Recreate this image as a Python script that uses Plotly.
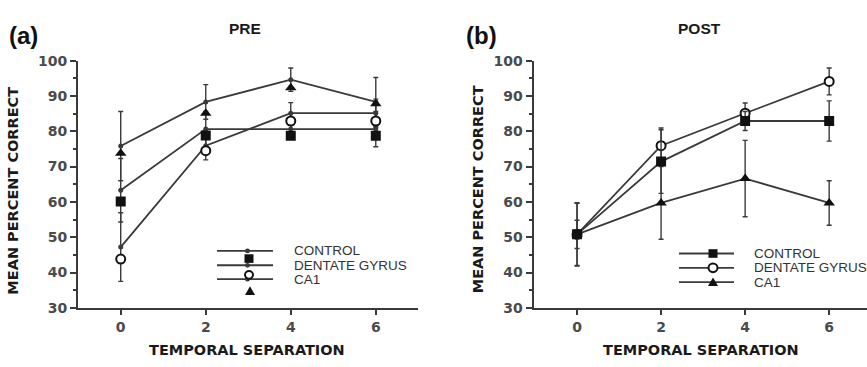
import plotly.graph_objects as go

W, H = 867, 367

# ---------------- data ----------------
x_vals = [0, 2, 4, 6]
x_ticks = [0, 2, 4, 6]
y_ticks = [30, 40, 50, 60, 70, 80, 90, 100]
series_names = ["CONTROL", "DENTATE GYRUS", "CA1"]

# PRE panel: connecting lines (with small vertex dots) and offset symbols
pre_control_line = [63.3, 80.6, 80.6, 80.6]
pre_dentate_line = [47.2, 75.9, 85.1, 85.1]
pre_ca1_line = [75.8, 88.3, 94.6, 88.3]
pre_control_err = [9.0, 5.0, 2.6, 5.0]
pre_dentate_err = [9.7, 4.0, 3.0, 4.0]
pre_ca1_err = [9.8, 4.9, 3.3, 6.9]
pre_control_sym = [60.1, 78.8, 78.7, 78.7]
pre_dentate_sym = [43.8, 74.5, 82.9, 82.9]
pre_ca1_sym = [73.8, 85.1, 92.3, 87.8]

# POST panel
post_control = [50.8, 71.4, 82.9, 82.9]
post_dentate = [50.8, 75.9, 85.1, 94.1]
post_ca1 = [50.8, 59.7, 66.6, 59.7]
post_control_err = [9.0, 9.0, 2.7, 5.7]
post_dentate_err = [8.8, 5.0, 2.9, 3.8]
post_ca1_err = [4.0, 10.3, 10.8, 6.3]

# ---------------- style ----------------
LINE_C = "#3a3a3a"
MARK_C = "#111111"
AXIS_C = "#3a3a3a"
TICK_FONT = dict(family="DejaVu Sans", size=14, color="#4a4a4a", weight="bold")
TITLE_FONT = dict(family="DejaVu Sans", size=14.5, color="#1a1a1a", weight="bold")
LEG_FONT = dict(family="Liberation Sans, Arial", size=13.5, color="#333333")
symbols = ["square", "circle", "triangle-up"]
sym_fill = [MARK_C, "white", MARK_C]
sym_sizes = [10, 9, 10]


def err(a):
    return dict(type="data", array=a, visible=True, width=2.5, thickness=1.4, color=LINE_C)


def marker(i):
    return dict(symbol=symbols[i], size=sym_sizes[i], color=sym_fill[i],
                line=dict(color=MARK_C, width=2 if sym_fill[i] == "white" else 0))


fig = go.Figure()

# PRE lines with vertex dots and error bars
for vals, e in [(pre_control_line, pre_control_err),
                (pre_dentate_line, pre_dentate_err),
                (pre_ca1_line, pre_ca1_err)]:
    fig.add_trace(go.Scatter(
        x=x_vals, y=vals, mode="lines+markers", xaxis="x", yaxis="y",
        line=dict(color=LINE_C, width=1.8),
        marker=dict(symbol="circle", size=5, color=LINE_C),
        error_y=err(e), showlegend=False, hoverinfo="skip"))

# PRE symbols (offset from the lines, as in the original figure)
for i, vals in enumerate([pre_control_sym, pre_dentate_sym, pre_ca1_sym]):
    fig.add_trace(go.Scatter(
        x=x_vals, y=vals, mode="markers", xaxis="x", yaxis="y",
        marker=marker(i), showlegend=False, hoverinfo="skip"))

# POST
for i, vals, e in [(2, post_ca1, post_ca1_err),
                   (1, post_dentate, post_dentate_err),
                   (0, post_control, post_control_err)]:
    fig.add_trace(go.Scatter(
        x=x_vals, y=vals, mode="lines+markers", xaxis="x2", yaxis="y2", name=series_names[i],
        line=dict(color=LINE_C, width=1.8), marker=marker(i),
        error_y=err(e), showlegend=False))


def px_x(p):
    return p / W


def px_y(p):
    return 1 - p / H


yb, yt = px_y(313.5), px_y(55)

axis_common = dict(showgrid=False, zeroline=False, showline=True, linecolor=AXIS_C,
                   linewidth=2, ticks="outside", tickcolor=AXIS_C, tickwidth=1.5,
                   tickfont=TICK_FONT)

fig.update_layout(
    width=W, height=H, margin=dict(l=0, r=0, t=0, b=0),
    paper_bgcolor="white", plot_bgcolor="white", showlegend=False,
    xaxis=dict(domain=[px_x(78), px_x(418.3)], range=[-1.005, 7.0], tickvals=x_ticks,
               ticklen=5, anchor="y", **axis_common),
    yaxis=dict(domain=[yb, yt], range=[30, 100], tickvals=y_ticks, ticklen=6, anchor="x",
               minor=dict(tick0=30, dtick=5, ticks="outside", ticklen=3, tickcolor=AXIS_C,
                          tickwidth=1.5),
               **axis_common),
    xaxis2=dict(domain=[px_x(533.5), 1.0], range=[-1.036, 6.9], tickvals=x_ticks,
                ticklen=5, anchor="y2", **axis_common),
    yaxis2=dict(domain=[yb, yt], range=[30, 100], tickvals=y_ticks, ticklen=6, anchor="x2",
                minor=dict(tick0=30, dtick=5, ticks="outside", ticklen=3, tickcolor=AXIS_C,
                           tickwidth=1.5),
                **axis_common),
)

ann = []


def text(x, y, s, font, xanchor="center", textangle=0):
    ann.append(dict(x=px_x(x), y=px_y(y), xref="paper", yref="paper", text=s,
                    showarrow=False, font=font, xanchor=xanchor, yanchor="middle",
                    textangle=textangle))


panel_font = dict(family="Liberation Sans, Arial", size=24, color="#111111", weight="bold")
head_font = dict(family="Liberation Sans, Arial", size=15.5, color="#1a1a1a", weight="bold")
text(23.5, 29, "(a)", panel_font)
text(481, 29, "(b)", panel_font)
text(245, 21, "PRE", head_font)
text(699, 21, "POST", head_font)
text(246.5, 358, "TEMPORAL SEPARATION", TITLE_FONT)
text(700.5, 358, "TEMPORAL SEPARATION", TITLE_FONT)
text(13, 191, "MEAN PERCENT CORRECT", TITLE_FONT, textangle=-90)
text(477.5, 189, "MEAN PERCENT CORRECT", TITLE_FONT, textangle=-90)

shapes = []


def hline(x0, x1, y):
    shapes.append(dict(type="line", xref="paper", yref="paper", x0=px_x(x0), x1=px_x(x1),
                       y0=px_y(y), y1=px_y(y), line=dict(color=LINE_C, width=1.8)))


def glyph(kind, cx, cy, s):
    h = s / 2
    if kind == "square":
        shapes.append(dict(type="rect", xref="paper", yref="paper", x0=px_x(cx - h), x1=px_x(cx + h),
                           y0=px_y(cy + h), y1=px_y(cy - h), fillcolor=MARK_C, line=dict(width=0)))
    elif kind == "circle-open":
        shapes.append(dict(type="circle", xref="paper", yref="paper", x0=px_x(cx - h), x1=px_x(cx + h),
                           y0=px_y(cy + h), y1=px_y(cy - h), fillcolor="white",
                           line=dict(color=MARK_C, width=2)))
    elif kind == "dot":
        shapes.append(dict(type="circle", xref="paper", yref="paper", x0=px_x(cx - h), x1=px_x(cx + h),
                           y0=px_y(cy + h), y1=px_y(cy - h), fillcolor=LINE_C, line=dict(width=0)))
    else:
        path = "M {} {} L {} {} L {} {} Z".format(
            px_x(cx - h), px_y(cy + h * 0.8), px_x(cx + h), px_y(cy + h * 0.8),
            px_x(cx), px_y(cy - h))
        shapes.append(dict(type="path", xref="paper", yref="paper", path=path,
                           fillcolor=MARK_C, line=dict(width=0)))


# PRE legend (symbols offset as in the original)
pre_rows = [254, 269, 283.5]
for yy, name in zip(pre_rows, series_names):
    hline(217, 273, yy)
    glyph("dot", 247.5, yy, 5)
    text(292, yy, name, LEG_FONT, xanchor="left")
glyph("square", 249, 262, 9)
glyph("circle-open", 249, 279, 8)
glyph("triangle", 250, 296, 10)

# POST legend
post_rows = [256.7, 271.7, 286.7]
for yy, name, kind in zip(post_rows, series_names, ["square", "circle-open", "triangle"]):
    hline(679, 734, yy)
    glyph(kind, 713, yy, 9 if kind != "triangle" else 10)
    text(752, yy, name, LEG_FONT, xanchor="left")

fig.update_layout(annotations=ann, shapes=shapes)
fig.write_html("out.html")
